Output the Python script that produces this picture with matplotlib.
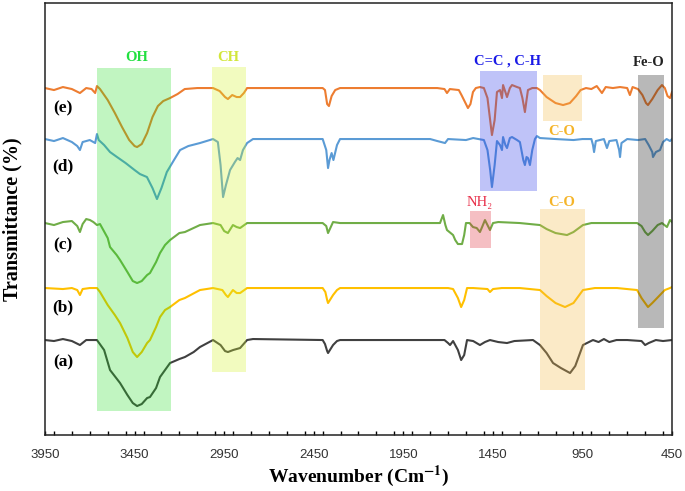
# FTIR spectra (a)-(e) with shaded band regions
import numpy as np
import matplotlib.pyplot as plt
from matplotlib.ticker import MultipleLocator, FixedLocator

plt.rcParams['mathtext.fontset'] = 'stix'

# Spectra: wavenumber (cm-1) and transmittance (arbitrary, stacked)
wn_e = [3950, 3900, 3850, 3800, 3755, 3720, 3690, 3670, 3660, 3643, 3600, 3560, 3520, 3480, 3450, 3436,
        3410, 3380, 3350, 3320, 3290, 3252, 3210, 3170, 3100, 3012, 2975, 2945, 2929, 2905, 2880, 2861,
        2840, 2822, 2400, 2387, 2375, 2365, 2350, 2330, 2303, 1760, 1720, 1706, 1690, 1640, 1625, 1600,
        1589, 1575, 1561, 1545, 1522, 1500, 1480, 1455, 1440, 1427, 1410, 1399, 1393, 1380, 1371, 1355,
        1343, 1315, 1299, 1285, 1271, 1262, 1254, 1230, 1204, 1187, 1150, 1100, 1058, 1020, 985, 960,
        930, 900, 870, 841, 820, 780, 740, 700, 685, 670, 640, 615, 595, 584, 560, 530, 506, 490, 475,
        461, 450]
tr_e = [347, 345, 348, 346, 342, 347, 346, 342, 349, 346, 335, 322, 308, 295, 289, 288,
        291, 302, 318, 329, 334, 337, 341, 346, 347, 347, 344, 338, 336, 340, 338, 338,
        342, 347, 347, 345, 331, 329, 339, 345, 347, 347, 346, 342, 346, 345, 340, 331,
        327, 331, 343, 347, 348, 347, 337, 300, 315, 343, 345, 337, 350, 343, 338, 347,
        350, 348, 347, 337, 323, 335, 345, 347, 347, 345, 338, 332, 330, 332, 339, 345,
        347, 346, 349, 342, 348, 347, 348, 347, 340, 348, 346, 340, 332, 330, 336, 345, 350, 347, 339,
        337, 343]

wn_d = [3950, 3900, 3850, 3800, 3770, 3755, 3740, 3700, 3670, 3660, 3650, 3620, 3587, 3548, 3500, 3450,
        3420, 3381, 3350, 3325, 3300, 3270, 3230, 3196, 3150, 3085, 3012, 2985, 2970, 2956, 2940, 2917,
        2890, 2875, 2861, 2845, 2822, 2789, 2400, 2380, 2370, 2362, 2350, 2340, 2320, 2303, 1800, 1760,
        1717, 1700, 1600, 1560, 1500, 1480, 1465, 1455, 1440, 1427, 1410, 1399, 1393, 1380, 1371, 1355,
        1343, 1315, 1299, 1280, 1271, 1262, 1254, 1243, 1230, 1215, 1204, 1187, 1100, 1000, 950, 900,
        891, 885, 875, 830, 813, 800, 760, 745, 740, 732, 700, 640, 600, 580, 560, 556, 540, 517, 500,
        480, 461, 450]
tr_d = [296, 294, 297, 293, 289, 285, 293, 295, 292, 301, 295, 290, 283, 278, 272, 265,
        261, 258, 247, 236, 247, 263, 275, 285, 289, 292, 296, 293, 270, 238, 250, 265,
        273, 277, 275, 285, 292, 296, 296, 285, 267, 275, 282, 275, 290, 296, 296, 294,
        292, 296, 295, 297, 295, 285, 265, 248, 270, 294, 290, 285, 298, 290, 287, 297,
        298, 295, 293, 275, 270, 278, 277, 270, 285, 296, 299, 297, 296, 295, 296, 296,
        290, 283, 294, 296, 287, 294, 295, 285, 278, 292, 296, 295, 296, 290, 283, 278, 283, 285, 293,
        296, 294, 296]

wn_c = [3950, 3900, 3850, 3800, 3770, 3755, 3740, 3720, 3699, 3680, 3660, 3643, 3600, 3587, 3550, 3531,
        3490, 3460, 3436, 3410, 3380, 3364, 3330, 3308, 3280, 3252, 3200, 3169, 3085, 3012, 2970, 2950,
        2929, 2901, 2880, 2861, 2822, 2400, 2380, 2370, 2342, 2303, 1800, 1745, 1728, 1715, 1706, 1672,
        1660, 1645, 1622, 1610, 1600, 1580, 1561, 1540, 1522, 1510, 1494, 1480, 1466, 1449, 1420, 1300,
        1187, 1150, 1100, 1036, 1000, 947, 900, 645, 620, 600, 584, 560, 530, 506, 478, 461, 450]
tr_c = [212, 210, 213, 214, 209, 203, 211, 216, 215, 213, 210, 211, 197, 188, 180, 175,
        163, 154, 152, 154, 160, 162, 173, 182, 190, 195, 202, 203, 210, 212, 210, 204,
        202, 210, 208, 207, 212, 212, 209, 202, 213, 212, 212, 212, 220, 210, 205, 200,
        195, 191, 191, 200, 212, 212, 208, 207, 203, 208, 215, 210, 205, 212, 213, 212,
        210, 206, 202, 200, 203, 210, 212, 212, 209, 203, 200, 204, 210, 212, 208, 215, 213]

wn_b = [3950, 3850, 3800, 3770, 3755, 3740, 3700, 3660, 3643, 3600, 3560, 3531, 3490, 3460, 3436, 3410,
        3380, 3364, 3330, 3308, 3280, 3252, 3200, 3169, 3085, 3012, 2960, 2940, 2929, 2901, 2880, 2861,
        2822, 2400, 2385, 2375, 2370, 2342, 2320, 2303, 1700, 1672, 1645, 1627, 1610, 1594, 1560, 1480,
        1466, 1449, 1400, 1300, 1187, 1150, 1100, 1047, 1000, 947, 880, 757, 645, 620, 584, 560, 517,
        490, 461, 450]
tr_b = [147, 146, 147, 145, 140, 146, 147, 147, 143, 130, 120, 112, 97, 83, 78, 83,
        92, 95, 108, 118, 125, 128, 135, 137, 145, 147, 145, 140, 138, 145, 142, 142,
        147, 147, 143, 135, 132, 140, 145, 147, 147, 146, 137, 128, 135, 147, 147, 146,
        143, 146, 147, 147, 145, 139, 132, 128, 132, 145, 147, 147, 145, 137, 128, 132, 140,
        145, 147, 148]

wn_a = [3950, 3900, 3850, 3800, 3755, 3720, 3660, 3620, 3587, 3531, 3490, 3460, 3436, 3410, 3380, 3364,
        3330, 3308, 3280, 3252, 3200, 3169, 3120, 3085, 3012, 2970, 2945, 2929, 2900, 2861, 2822, 2789,
        2400, 2387, 2375, 2370, 2342, 2320, 2303, 1745, 1720, 1700, 1689, 1672, 1645, 1627, 1610, 1594,
        1560, 1522, 1494, 1466, 1420, 1371, 1330, 1226, 1187, 1150, 1114, 1070, 1019, 990, 947, 891,
        860, 830, 800, 760, 700, 620, 600, 580, 540, 500, 450]
tr_a = [95, 94, 96, 94, 90, 95, 95, 85, 65, 52, 40, 32, 29, 31, 37, 38,
        47, 58, 65, 72, 76, 78, 83, 88, 95, 90, 84, 83, 85, 87, 95, 96,
        95, 91, 84, 82, 90, 94, 95, 95, 95, 92, 90, 94, 85, 75, 80, 95,
        94, 90, 93, 95, 93, 92, 94, 95, 90, 82, 72, 67, 62, 69, 90, 95,
        93, 96, 93, 95, 95, 94, 90, 92, 95, 94, 95]

spectra = [(wn_e, tr_e, '#ed7d31'), (wn_d, tr_d, '#5b9bd5'), (wn_c, tr_c, '#70ad47'),
           (wn_b, tr_b, '#ffc000'), (wn_a, tr_a, '#404040')]

# Sample labels and their positions
sample_names = ['(e)', '(d)', '(c)', '(b)', '(a)']
sample_wn = [3850, 3850, 3850, 3850, 3850]
sample_tr = [327, 269, 190, 128, 73]

# Shaded bands: (wn_hi, wn_lo, tr_lo, tr_hi, colour, alpha)
bands = [(3660, 3244, 24, 367, '#22dd22', 0.28),
         (3018, 2828, 63, 368, '#d4f52d', 0.30),
         (1522, 1204, 244, 364, '#2d3ae8', 0.30),
         (1170, 952, 314, 360, '#f5bc48', 0.30),
         (1578, 1460, 187, 224, '#de2d3a', 0.30),
         (1187, 936, 45, 226, '#f5bc48', 0.30),
         (640, 495, 107, 360, '#232323', 0.32)]

# Band labels
band_text = ['OH', 'CH', 'C=C , C-H', 'C-O', 'NH\u2082', 'C-O', 'Fe-O']
band_wn = [3436, 2929, 1368, 1064, 1522, 1064, 578]
band_tr = [378, 378, 374, 304, 233, 233, 373]
band_col = ['#22e040', '#d2e63a', '#1a1ae6', '#f5b428', '#e8304a', '#f5b428', '#222222']
band_bold = ['bold', 'bold', 'bold', 'bold', 'normal', 'bold', 'bold']

fig = plt.figure(figsize=(6.85, 4.91), dpi=100)
ax = fig.add_axes([0.0657, 0.114, 0.9153, 0.8798])

for wn, tr, col in spectra:
    ax.plot(wn, tr, color=col, lw=1.5, zorder=2)

for hi, lo, b, t, col, a in bands:
    ax.fill_between([lo, hi], [b, b], [t, t], color=col, alpha=a, lw=0, zorder=3)

serif = ['Liberation Serif', 'DejaVu Serif']
for s, w, t in zip(sample_names, sample_wn, sample_tr):
    ax.text(w, t, s, ha='center', va='center', fontsize=12.5, fontweight='bold', family=serif, zorder=5)

for s, w, t, c, fw in zip(band_text, band_wn, band_tr, band_col, band_bold):
    ax.text(w, t, s, ha='center', va='center', fontsize=10.5, fontweight=fw, color=c, family=serif, zorder=5)

ax.set_xlim(3950, 450)
ax.set_ylim(0, 432)
ax.xaxis.set_major_locator(FixedLocator([3950, 3450, 2950, 2450, 1950, 1450, 950, 450]))
ax.xaxis.set_minor_locator(MultipleLocator(100))
ax.tick_params(axis='x', which='both', direction='in', length=3, width=1, pad=10,
               labelsize=9.5, labelcolor='#333333')
ax.set_xticklabels(['3950', '3450', '2950', '2450', '1950', '1450', '950', '450'], family='Liberation Sans')
ax.set_yticks([])
for sp in ax.spines.values():
    sp.set_linewidth(1.1)
    sp.set_color('#222222')

ax.set_xlabel('Wavenumber (Cm$^{\\mathbf{-1}}$)', fontsize=14, fontweight='bold', family=serif, labelpad=2)
ax.set_ylabel('Transmittance (%)', fontsize=14.5, fontweight='bold', family=serif)
ax.yaxis.set_label_coords(-0.036, 0.5)

fig.savefig('out.png', dpi=100)
